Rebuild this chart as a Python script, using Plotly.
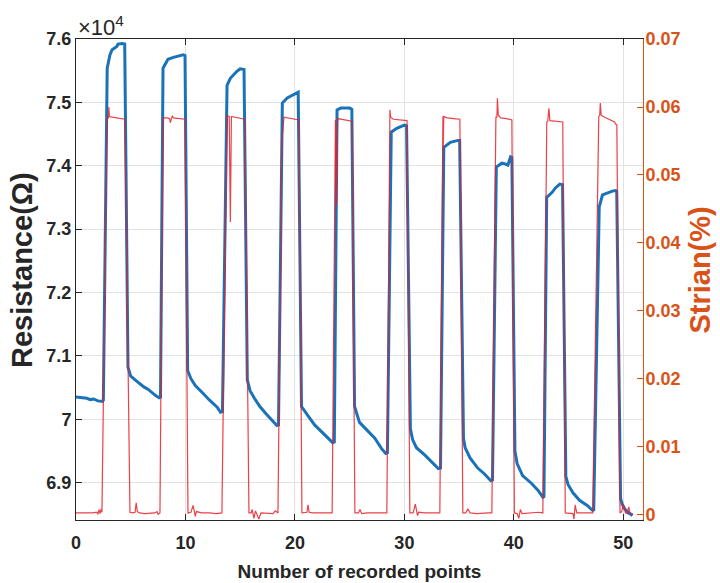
import plotly.graph_objects as go

# Resistance series (Ohm) vs recorded point index
x_res = [0, 0.5, 1.0, 1.3, 1.6, 2.0, 2.4,
         2.5, 2.85, 3.1, 3.3, 3.7, 3.85, 4.2, 4.45,
         4.75, 5.0, 5.4, 5.8, 6.2, 6.6, 7.0, 7.3, 7.6,
         7.72, 7.95, 8.2, 8.4, 8.9, 9.4, 9.8, 9.96,
         10.2, 10.5, 10.9, 11.6, 12.2, 12.9, 13.2,
         13.38, 13.8, 14.1, 14.4, 14.7, 15.0, 15.35,
         15.65, 15.9, 16.3, 16.8, 17.4, 18.0, 18.35,
         18.5, 18.85, 19.3, 19.85, 20.3,
         20.6, 20.9, 21.3, 21.8, 22.3, 22.8, 23.2, 23.45,
         23.6, 23.85, 24.2, 24.6, 25.0, 25.2,
         25.45, 25.9, 26.6, 27.3, 27.9, 28.3,
         28.45, 28.8, 29.3, 29.7, 30.0, 30.2,
         30.55, 30.75, 31.1, 31.9, 32.6, 33.1,
         33.3, 33.6, 34.2, 34.6, 34.9, 35.05,
         35.4, 35.55, 36.0, 36.7, 37.3, 37.9,
         38.05, 38.4, 38.9, 39.2, 39.45, 39.7, 39.82,
         40.1, 40.3, 40.8, 41.6, 42.2, 42.65,
         42.75, 43.0, 43.5, 43.8, 44.2, 44.45,
         44.75, 44.95, 45.4, 46.0, 46.7, 47.2,
         47.3, 47.8, 48.1, 48.6, 49.0, 49.3, 49.4,
         49.75, 49.9, 50.15, 50.5, 50.85]
resistance = [70350, 70340, 70330, 70310, 70320, 70290, 70280,
              70300, 75540, 75750, 75830, 75880, 75920, 75930, 75920,
              70820, 70680, 70620, 70560, 70510, 70470, 70410, 70370, 70340,
              70350, 75540, 75630, 75680, 75710, 75730, 75750, 75740,
              70770, 70640, 70530, 70410, 70300, 70190, 70110,
              70120, 75270, 75380, 75440, 75490, 75530, 75520,
              70620, 70450, 70330, 70200, 70080, 69970, 69900,
              69910, 74990, 75070, 75120, 75160,
              70200, 70120, 70030, 69910, 69820, 69730, 69660, 69630,
              69640, 74880, 74910, 74910, 74910, 74890,
              70200, 69950, 69820, 69700, 69540, 69460,
              69470, 74530, 74590, 74620, 74640, 74630,
              69850, 69680, 69550, 69430, 69300, 69220,
              69230, 74290, 74370, 74390, 74400, 74400,
              69700, 69550, 69390, 69230, 69140, 69030,
              69040, 73980, 74040, 74030, 74010, 74140, 74130,
              69500, 69300, 69110, 68990, 68880, 68770,
              68780, 73500, 73580, 73650, 73710, 73700,
              69100, 68970, 68840, 68720, 68640, 68560,
              68570, 73350, 73540, 73580, 73600, 73610, 73600,
              68750, 68660, 68580, 68520, 68480]

# Strain series (%) vs recorded point index
x_strain = [0, 0.5, 1.0, 1.5, 1.9, 2.0, 2.1, 2.2, 2.3, 2.37,
            2.83, 2.95, 3.0, 3.05, 3.3, 3.8, 4.2, 4.47,
            4.93, 5.2, 5.4, 5.5, 5.6, 5.8, 6.3, 6.8, 7.2, 7.4, 7.5, 7.67,
            7.95, 8.3, 8.55, 8.62, 8.7, 8.8, 8.9, 9.4, 9.96,
            10.23, 10.5, 10.7, 10.8, 10.9, 11.0, 11.5, 12.2, 12.8, 13.33,
            13.79, 14.0, 14.1, 14.2, 14.5, 15.0, 15.43,
            15.8, 16.0, 16.1, 16.25, 16.4, 16.5, 16.7, 16.9, 17.5, 18.0, 18.2, 18.45,
            18.81, 18.9, 19.0, 19.3, 19.8, 20.37,
            20.64, 20.9, 21.1, 21.2, 21.3, 21.6, 22.2, 22.8, 23.4,
            23.7, 23.8, 23.9, 24.2, 24.7, 25.21,
            25.48, 25.8, 25.95, 26.1, 26.6, 27.3, 28.0, 28.4,
            28.68, 28.75, 29.0, 29.6, 30.24,
            30.5, 30.8, 31.0, 31.1, 31.2, 31.3, 31.8, 32.5, 33.0, 33.24,
            33.52, 33.55, 33.6, 33.9, 34.5, 35.07,
            35.34, 35.6, 35.8, 36.0, 36.6, 37.2, 37.7, 37.99,
            38.36, 38.45, 38.5, 38.58, 38.8, 39.3, 39.82,
            40.05, 40.3, 40.45, 40.6, 40.75, 41.3, 41.9, 42.3, 42.65,
            43.01, 43.1, 43.2, 43.3, 43.7, 44.2, 44.47,
            44.7, 45.0, 45.4, 45.5, 45.6, 45.75, 46.2, 46.8, 47.21,
            47.76, 47.85, 47.9, 47.98, 48.3, 48.8, 49.2, 49.3, 49.41,
            49.7, 49.85, 50.0, 50.2, 50.35, 50.5, 50.6, 50.8, 50.9]
strain = [0.0003, 0.0003, 0.0002, 0.0003, 0.0004, 0.0001, 0.0008, 0.0002, 0.0009, 0.0004,
          0.0585, 0.0583, 0.0600, 0.0586, 0.0585, 0.0584, 0.0583, 0.0582,
          0.0004, 0.0003, 0.0004, 0.0018, 0.0005, 0.0003, 0.0002, 0.0003, 0.0003, 0.0005, 0.0001, 0.0003,
          0.0584, 0.0584, 0.0583, 0.0577, 0.0581, 0.0587, 0.0584, 0.0583, 0.0582,
          0.0003, 0.0004, 0.0014, 0.0004, -0.0002, 0.0005, 0.0003, 0.0003, 0.0002, 0.0003,
          0.0587, 0.0586, 0.0431, 0.0586, 0.0585, 0.0583, 0.0582,
          0.0003, 0.0003, 0.0008, -0.0005, 0.0006, 0.0002, -0.0006, 0.0003, 0.0003, 0.0002, 0.0006, 0.0003,
          0.0556, 0.0566, 0.0585, 0.0584, 0.0583, 0.0581,
          0.0003, 0.0003, 0.0004, 0.0015, 0.0004, 0.0003, 0.0003, 0.0003, 0.0003,
          0.0581, 0.0456, 0.0583, 0.0582, 0.0581, 0.0579,
          0.0003, 0.0003, 0.0008, 0.0002, 0.0003, 0.0003, 0.0003, 0.0003,
          0.0596, 0.0585, 0.0582, 0.0581, 0.0580,
          0.0003, 0.0003, 0.0016, 0.0004, -0.0001, 0.0004, 0.0003, 0.0003, 0.0003, 0.0003,
          0.0586, 0.0540, 0.0586, 0.0584, 0.0583, 0.0582,
          0.0003, 0.0003, 0.0009, 0.0003, 0.0002, 0.0003, 0.0003, 0.0003,
          0.0585, 0.0585, 0.0613, 0.0588, 0.0584, 0.0583, 0.0581,
          0.0003, 0.0002, -0.0005, 0.0008, 0.0002, 0.0003, 0.0003, 0.0004, 0.0003,
          0.0578, 0.0579, 0.0598, 0.0580, 0.0579, 0.0578, 0.0578,
          0.0003, 0.0003, 0.0002, -0.0006, 0.0015, 0.0003, 0.0003, 0.0003, 0.0003,
          0.0586, 0.0588, 0.0606, 0.0588, 0.0585, 0.0581, 0.0578, 0.0575, 0.0574,
          0.0003, 0.0005, 0.0016, 0.0003, 0.0002, 0.0012, 0.0004, 0.0001, 0.0002]

x_ticks = [0, 10, 20, 30, 40, 50]
res_ticks = [69000, 70000, 71000, 72000, 73000, 74000, 75000, 76000]
res_ticktext = ["6.9", "7", "7.1", "7.2", "7.3", "7.4", "7.5", "7.6"]
strain_ticks = [0, 0.01, 0.02, 0.03, 0.04, 0.05, 0.06, 0.07]
strain_ticktext = ["0", "0.01", "0.02", "0.03", "0.04", "0.05", "0.06", "0.07"]

BLUE = "#1a72b8"
RED = "#e8202a"
ORANGE = "#D95319"
DARK = "#262626"
FONT = "Liberation Sans, Arial, sans-serif"

fig = go.Figure()
fig.add_trace(go.Scatter(x=x_res, y=resistance, mode="lines",
                         line=dict(color=BLUE, width=3), yaxis="y",
                         name="Resistance"))
fig.add_trace(go.Scatter(x=x_strain, y=strain, mode="lines",
                         line=dict(color=RED, width=1.2), yaxis="y2",
                         opacity=0.85, name="Strain"))

fig.update_layout(
    width=720, height=583,
    margin=dict(l=76, r=77, t=39, b=63),
    paper_bgcolor="white", plot_bgcolor="white",
    showlegend=False,
    font=dict(family=FONT, color=DARK),
    xaxis=dict(
        range=[0, 51.8], tickvals=x_ticks, automargin=False,
        ticks="inside", ticklen=6, tickcolor=DARK,
        showline=True, linecolor=DARK, linewidth=1, mirror="ticks",
        showgrid=True, gridcolor="#e2e2e2", zeroline=False,
        tickfont=dict(family=FONT, size=18, weight="bold", color=DARK),
        ticklabelstandoff=6,
        title=dict(text="Number of recorded points", standoff=13,
                   font=dict(family=FONT, size=19, weight="bold", color=DARK)),
    ),
    yaxis=dict(
        range=[68410, 76000], tickvals=res_ticks, ticktext=res_ticktext,
        automargin=False,
        ticks="inside", ticklen=6, tickcolor=DARK,
        showline=True, linecolor=DARK, linewidth=1,
        showgrid=True, gridcolor="#e2e2e2", zeroline=False,
        tickfont=dict(family=FONT, size=18, weight="bold", color=DARK),
        ticklabelstandoff=0,
    ),
    yaxis2=dict(
        overlaying="y", side="right", automargin=False,
        range=[-0.00074, 0.07], tickvals=strain_ticks, ticktext=strain_ticktext,
        ticks="inside", ticklen=6, tickcolor=ORANGE,
        showline=True, linecolor=ORANGE, linewidth=1,
        showgrid=False, zeroline=False,
        tickfont=dict(family=FONT, size=18, weight="bold", color=ORANGE),
        ticklabelstandoff=-2,
    ),
    annotations=[
        dict(text="×10<sup>4</sup>", xref="paper", yref="paper",
             x=0, y=1, xanchor="left", yanchor="bottom", yshift=-3,
             showarrow=False, font=dict(family=FONT, size=22, color=DARK)),
        dict(text="Resistance(Ω)", xref="paper", yref="paper",
             x=-0.095, y=0.52, xanchor="center", yanchor="middle",
             textangle=-90, showarrow=False,
             font=dict(family=FONT, size=29, weight="bold", color=DARK)),
        dict(text="Strian(%)", xref="paper", yref="paper",
             x=1.1, y=0.52, xanchor="center", yanchor="middle",
             textangle=-90, showarrow=False,
             font=dict(family=FONT, size=29, weight="bold", color=ORANGE)),
    ],
)

fig.write_html("out.html", config={"displayModeBar": False},
               post_script="document.body.style.margin='0';")
